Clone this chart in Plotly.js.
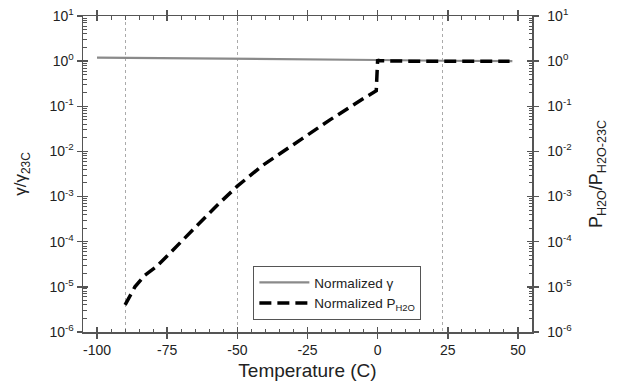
<!DOCTYPE html>
<html><head><meta charset="utf-8">
<script src="https://cdn.plot.ly/plotly-3.0.1.min.js"></script>
<style>html,body{margin:0;padding:0;background:#fff}#chart{width:627px;height:389px}</style>
</head><body><div id="chart"></div>
<script>
// Normalized surface tension (gamma / gamma_23C)
const gammaT = [-100, -75, -50, -25, 0, 23, 48];
const gammaV = [1.20, 1.17, 1.14, 1.11, 1.06, 1.02, 1.00];
// Normalized water vapour pressure (P_H2O / P_H2O-23C)
const pT = [-90, -86.5, -83, -79, -76, -70, -63, -57, -50, -41, -27, -17, -5, -0.5, 0, 0.3, 10, 25, 47];
const pV = [4.0e-6, 1.0e-5, 1.8e-5, 2.75e-5, 4.2e-5, 1.0e-4, 2.8e-4, 6.6e-4, 1.7e-3, 4.9e-3, 1.9e-2, 5.0e-2, 0.15, 0.22, 1.1, 1.02, 1.0, 1.0, 1.0];
// axis ticks
const xTicks = [-100, -75, -50, -25, 0, 25, 50];
const xTickText = ['-100', '-75', '-50', '-25', '0', '25', '50'];
const xMinor = [-95, -90, -85, -80, -70, -65, -60, -55, -45, -40, -35, -30, -20, -15, -10, -5, 5, 10, 15, 20, 30, 35, 40, 45];
const xGrid = [-90, -50, 23];
const yTickVals = [1e-6, 1e-5, 1e-4, 1e-3, 1e-2, 1e-1, 1, 10];
const yTickText = ['10<sup>-6</sup>','10<sup>-5</sup>','10<sup>-4</sup>','10<sup>-3</sup>','10<sup>-2</sup>','10<sup>-1</sup>','10<sup>0</sup>','10<sup>1</sup>'];
const minorMult = [2, 3, 4, 5, 6, 7, 8, 9];
const yMinor = [];
yTickVals.slice(0, -1).forEach(d => minorMult.forEach(m => yMinor.push(d * m)));

const axCol = '#555';
const FAM = 'Liberation Sans, Arial, sans-serif';
const fnt = {family: FAM, size: 14, color: '#222'};

const traces = [
  {x: gammaT, y: gammaV, type: 'scatter', mode: 'lines', name: 'Normalized γ',
   line: {color: '#8a8a8a', width: 2.2}, xaxis: 'x', yaxis: 'y'},
  {x: pT, y: pV, type: 'scatter', mode: 'lines', name: 'Normalized P<sub>H2O</sub>',
   line: {color: '#000', width: 3.5, dash: '12px,6px'}, xaxis: 'x', yaxis: 'y'}
];

const logAx = {type: 'log', range: [-6, 1], overlaying: 'y', anchor: 'x', showgrid: false, zeroline: false, showline: true, linecolor: axCol, linewidth: 1.5, showticklabels: false};
const linAx = {range: [-105, 55], overlaying: 'x', anchor: 'y', showgrid: false, zeroline: false, showline: true, linecolor: axCol, linewidth: 1.5, showticklabels: false};

const layout = {
  width: 627, height: 389,
  margin: {l: 83, r: 95, t: 16, b: 57},
  paper_bgcolor: '#fff', plot_bgcolor: 'rgba(0,0,0,0)',
  font: fnt,
  showlegend: true,
  legend: {x: 0.379, y: 0.038, xanchor: 'left', yanchor: 'bottom',
    bordercolor: '#555', borderwidth: 1.2, bgcolor: '#fff',
    font: {family: FAM, size: 13.5, color: '#222'},
    tracegroupgap: 0, itemwidth: 50},
  xaxis: {range: [-105, 55], tickvals: xTicks, ticktext: xTickText, ticks: 'outside', ticklen: 5, tickcolor: axCol, tickwidth: 1.5,
    showline: true, linecolor: axCol, linewidth: 1.5, mirror: 'ticks', showgrid: false, zeroline: false,
    minor: {tickmode: 'array', tickvals: xMinor, ticks: 'inside', ticklen: 3.5, tickcolor: axCol, tickwidth: 1, showgrid: false},
    tickfont: fnt,
    title: {text: 'Temperature (C)', font: {family: FAM, size: 19, color: '#222'}, standoff: 6}},
  xaxis2: Object.assign({}, linAx, {tickvals: xTicks, ticks: 'inside', ticklen: 5, tickcolor: axCol, tickwidth: 1.5, mirror: 'ticks'}),
  xaxis3: Object.assign({}, linAx, {tickvals: xGrid, ticks: '', showline: false, showgrid: true, gridcolor: '#aaa', griddash: 'dot', gridwidth: 1}),
  yaxis: {type: 'log', range: [-6, 1], tickvals: yTickVals, ticktext: yTickText, ticks: 'outside', ticklen: 5,
    tickcolor: axCol, tickwidth: 1.5, showline: true, linecolor: axCol, linewidth: 1.5, mirror: 'ticks',
    minor: {tickmode: 'array', tickvals: yMinor, ticks: 'inside', ticklen: 3.5, tickcolor: axCol, tickwidth: 1, showgrid: false},
    showgrid: false, zeroline: false, tickfont: fnt,
    title: {text: 'γ/γ<sub>23C</sub>', font: {family: FAM, size: 17, color: '#222'}, standoff: 18}},
  yaxis2: {type: 'log', range: [-6, 1], overlaying: 'y', side: 'right', anchor: 'x', tickvals: yTickVals, ticktext: yTickText,
    ticks: 'outside', ticklen: 5, tickcolor: axCol, tickwidth: 1.5, showline: true, linecolor: axCol, linewidth: 1.5,
    showgrid: false, zeroline: false, tickfont: fnt, ticklabelstandoff: 6,
    title: {text: 'P<sub>H2O</sub>/P<sub>H2O-23C</sub>', font: {family: FAM, size: 18, color: '#222'}, standoff: 18}},
  yaxis3: Object.assign({}, logAx, {tickvals: yTickVals, ticks: 'inside', ticklen: 5, tickcolor: axCol, tickwidth: 1.5, mirror: 'ticks'})
};

// invisible traces that activate each overlay axis
const dummy = (xa, ya) => ({x: [0], y: [1], xaxis: xa, yaxis: ya, mode: 'markers', marker: {opacity: 0}, showlegend: false, hoverinfo: 'skip'});
traces.push(dummy('x2', 'y3'));
traces.push(dummy('x3', 'y2'));

Plotly.newPlot('chart', traces, layout, {staticPlot: true});
</script></body></html>
